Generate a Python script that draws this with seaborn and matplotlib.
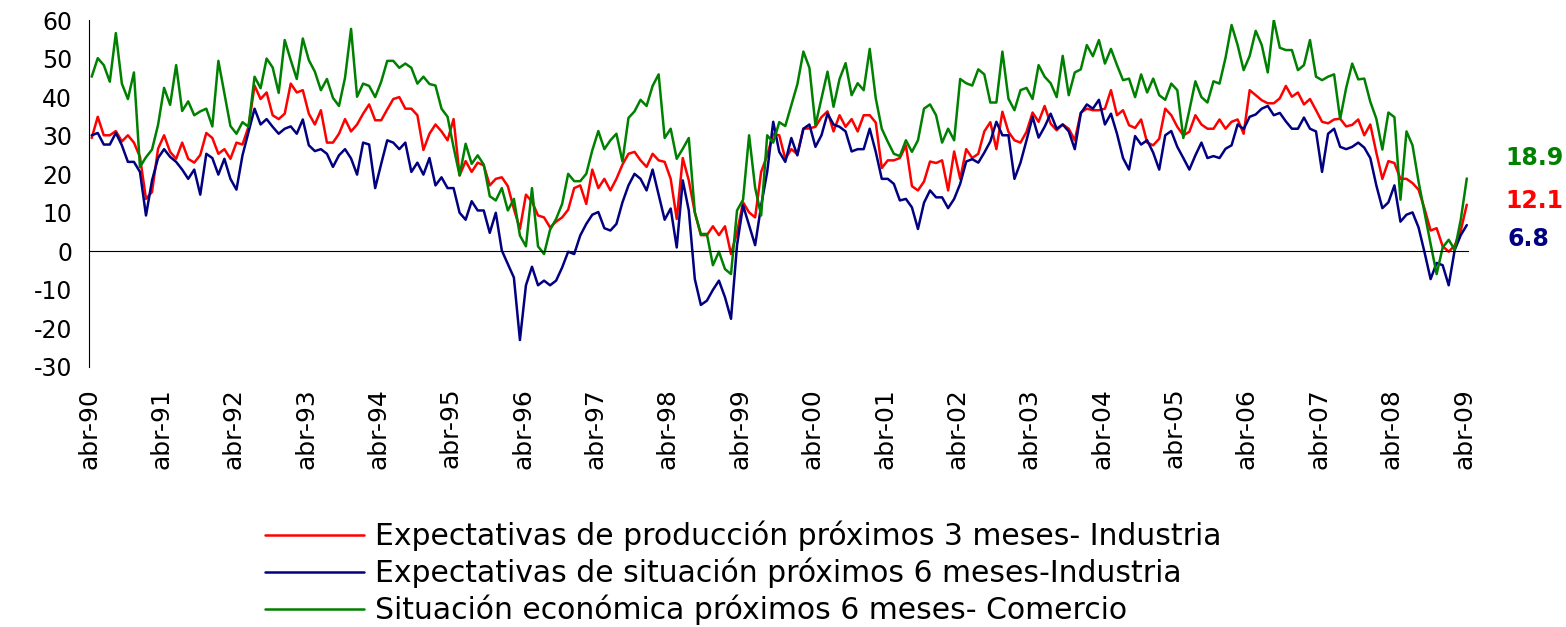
import numpy as np
import pandas as pd
import seaborn as sns
import matplotlib
matplotlib.use('Agg')
import matplotlib.pyplot as plt
import matplotlib.transforms as mtransforms

# Monthly series, abr-90 .. abr-09 (one row per year, Apr..Mar)
produccion_ind = [
    29.4, 34.9, 30.1, 30.1, 31.2, 28.5, 30.1, 28.2, 24.5, 13.6, 15.4, 26.6,
    30.1, 25.8, 24.0, 28.2, 24.0, 23.0, 25.0, 30.7, 29.4, 25.3, 26.5, 24.0,
    28.2, 27.7, 32.3, 43.0, 39.5, 41.2, 35.3, 34.3, 35.7, 43.5, 41.2, 41.8,
    35.7, 32.9, 36.6, 28.2, 28.2, 30.5, 34.3, 31.1, 32.9, 35.7, 38.1, 34.0,
    34.0, 36.8, 39.5, 40.0, 37.0, 37.0, 35.3, 26.3, 30.5, 32.9, 31.1, 28.8,
    34.3, 19.7, 23.4, 20.6, 23.0, 22.3, 17.1, 18.8, 19.2, 16.9, 11.0, 5.8,
    14.7, 12.9, 9.3, 8.8, 6.2, 7.7, 8.8, 10.8, 16.4, 17.1, 12.3, 21.2,
    16.4, 18.8, 15.8, 18.8, 22.5, 25.3, 25.8, 23.6, 21.9, 25.3, 23.6, 23.2,
    18.8, 8.4, 24.2, 18.4, 10.1, 4.2, 4.2, 6.5, 4.2, 6.5, -0.7, 4.9,
    12.7, 10.1, 8.8, 20.6, 24.9, 30.5, 30.1, 24.0, 26.5, 25.2, 31.8, 31.9,
    32.3, 34.8, 36.3, 31.1, 35.3, 32.3, 34.3, 31.1, 35.3, 35.3, 33.4, 21.6,
    23.6, 23.6, 24.2, 27.5, 16.9, 15.8, 18.1, 23.3, 22.9, 23.6, 15.8, 25.9,
    18.8, 26.5, 24.2, 25.3, 31.1, 33.5, 26.5, 36.2, 31.0, 28.8, 28.2, 31.0,
    36.0, 33.6, 37.7, 33.1, 31.4, 32.9, 31.8, 28.8, 36.0, 37.0, 36.6, 36.6,
    37.0, 41.8, 35.3, 36.6, 32.7, 32.0, 34.2, 28.2, 27.5, 29.2, 37.0, 35.3,
    32.3, 30.1, 31.0, 35.3, 32.9, 31.8, 31.8, 34.2, 31.8, 33.6, 34.2, 30.5,
    41.8, 40.5, 39.2, 38.4, 38.4, 39.7, 42.9, 40.1, 41.2, 38.1, 39.5, 36.6,
    33.6, 33.2, 34.2, 34.4, 32.4, 32.8, 34.2, 30.1, 32.9, 25.6, 18.8, 23.4,
    22.9, 18.8, 18.8, 17.7, 16.0, 11.0, 5.4, 6.0, 1.3, -0.1, 1.5, 5.4,
    12.1,
]

situacion_ind = [
    30.1, 30.7, 27.7, 27.7, 30.7, 27.5, 23.2, 23.2, 20.6, 9.3, 18.4, 24.2,
    26.5, 24.5, 23.2, 21.2, 18.8, 21.2, 14.7, 25.3, 24.2, 19.9, 24.0, 18.8,
    16.0, 24.9, 31.0, 37.0, 32.9, 34.3, 32.3, 30.5, 31.8, 32.4, 30.5, 34.2,
    27.5, 26.0, 26.5, 25.3, 21.9, 24.9, 26.5, 24.1, 19.9, 28.2, 27.7, 16.4,
    22.7, 28.8, 28.2, 26.5, 28.2, 20.6, 23.0, 19.9, 24.2, 17.1, 19.2, 16.4,
    16.4, 10.0, 8.2, 13.0, 10.6, 10.6, 4.8, 10.0, 0.2, -3.3, -6.8, -23.0,
    -8.8, -4.0, -8.8, -7.6, -8.8, -7.6, -4.2, -0.1, -0.7, 4.1, 7.1, 9.5,
    10.2, 6.0, 5.4, 7.1, 12.7, 17.1, 20.1, 18.8, 15.8, 21.2, 14.7, 8.2,
    11.1, 1.0, 18.4, 10.6, -7.2, -13.9, -12.8, -10.0, -7.6, -11.9, -17.5, 1.6,
    11.9, 6.7, 1.6, 11.9, 20.6, 33.6, 25.8, 23.2, 29.4, 24.9, 31.8, 32.9,
    27.1, 30.1, 35.7, 32.9, 32.3, 31.1, 25.9, 26.5, 26.5, 31.8, 25.8, 18.8,
    18.8, 17.5, 13.2, 13.6, 11.4, 5.8, 12.6, 15.8, 14.0, 14.0, 11.2, 13.6,
    17.5, 23.3, 23.9, 23.0, 25.6, 28.5, 33.6, 30.1, 30.1, 18.8, 23.0, 28.8,
    34.9, 29.5, 32.3, 35.7, 31.8, 32.9, 31.1, 26.5, 35.8, 38.1, 37.0, 39.3,
    32.9, 35.7, 30.5, 24.2, 21.2, 29.9, 27.7, 28.8, 25.6, 21.2, 30.1, 31.2,
    27.1, 24.2, 21.2, 24.9, 28.2, 24.2, 24.7, 24.2, 26.6, 27.5, 32.9, 31.7,
    34.9, 35.5, 37.0, 37.7, 35.3, 35.9, 33.7, 31.8, 31.8, 34.7, 31.8, 31.1,
    20.6, 30.5, 31.8, 27.1, 26.5, 27.1, 28.2, 26.9, 24.2, 17.1, 11.2, 12.7,
    17.1, 7.7, 9.5, 10.1, 6.2, -0.3, -7.2, -3.0, -3.6, -8.8, 0.4, 4.2,
    6.8,
]

situacion_com = [
    45.3, 50.1, 48.3, 44.0, 56.6, 43.5, 39.5, 46.4, 21.9, 24.4, 26.4, 32.8,
    42.4, 38.0, 48.3, 36.4, 38.9, 35.3, 36.3, 37.0, 32.4, 49.4, 41.0, 32.5,
    30.5, 33.5, 32.3, 45.3, 42.3, 50.0, 47.7, 41.1, 54.8, 49.6, 44.7, 55.2,
    49.6, 46.6, 41.8, 44.7, 39.8, 37.7, 45.0, 57.7, 40.1, 43.5, 42.9, 40.0,
    44.0, 49.4, 49.4, 47.6, 48.7, 47.6, 43.5, 45.3, 43.4, 43.0, 37.0, 34.9,
    27.0, 19.7, 27.9, 22.7, 24.9, 22.5, 14.3, 13.2, 16.4, 10.6, 13.6, 4.1,
    1.3, 16.4, 1.3, -0.7, 5.6, 8.4, 12.3, 20.1, 18.2, 18.2, 20.1, 26.2,
    31.2, 26.5, 28.8, 30.5, 23.3, 34.6, 36.3, 39.3, 37.7, 42.9, 45.9, 29.4,
    31.8, 24.0, 26.6, 29.4, 10.1, 4.5, 4.5, -3.6, -0.1, -4.6, -5.9, 10.6,
    13.4, 30.1, 16.5, 9.3, 30.1, 28.2, 33.5, 32.5, 37.9, 43.3, 51.8, 47.6,
    32.7, 39.6, 46.6, 37.5, 44.7, 48.8, 40.5, 43.6, 41.8, 52.5, 39.7, 31.8,
    28.4, 25.3, 24.7, 28.8, 25.8, 28.8, 37.0, 38.1, 35.3, 28.2, 31.8, 28.8,
    44.7, 43.6, 43.0, 47.2, 45.9, 38.6, 38.6, 51.8, 39.6, 36.6, 41.8, 42.4,
    39.5, 48.3, 45.3, 43.6, 40.0, 50.7, 40.5, 46.4, 47.2, 53.5, 50.6, 54.8,
    48.7, 52.5, 48.3, 44.4, 44.8, 40.0, 45.9, 41.2, 44.8, 40.5, 39.3, 43.5,
    41.8, 29.4, 36.6, 44.1, 40.0, 38.6, 44.1, 43.5, 50.2, 58.7, 53.5, 47.0,
    50.7, 57.2, 53.5, 46.4, 60.0, 52.8, 52.2, 52.2, 47.0, 48.3, 54.8, 45.3,
    44.4, 45.3, 45.9, 34.3, 42.4, 48.7, 44.6, 44.8, 38.8, 34.4, 26.4, 36.0,
    34.8, 13.4, 31.1, 27.5, 18.1, 10.0, 1.9, -5.9, 1.0, 3.0, 0.4, 8.2,
    18.9,
]

series_names = [
    'Expectativas de producción próximos 3 meses- Industria',
    'Expectativas de situación próximos 6 meses-Industria',
    'Situación económica próximos 6 meses- Comercio',
]
series_colors = ['#ff0000', '#000080', '#008000']
year_labels = ['abr-%02d' % ((90 + k) % 100) for k in range(20)]

# long format for seaborn
frames = []
for name, vals in zip(series_names, [produccion_ind, situacion_ind, situacion_com]):
    frames.append(pd.DataFrame({'mes': np.arange(len(vals)), 'valor': vals, 'serie': name}))
df = pd.concat(frames, ignore_index=True)

sns.set_style('white')
plt.rcParams['font.family'] = ['DejaVu Sans']
plt.rcParams['axes.unicode_minus'] = False
plt.rcParams['text.color'] = 'black'
plt.rcParams['xtick.color'] = 'black'
plt.rcParams['ytick.color'] = 'black'

fig = plt.figure(figsize=(15.66, 6.27), dpi=100)
ax = fig.add_axes([89 / 1566, 1 - 367 / 627, (1468 - 89) / 1566, 347 / 627])

sns.lineplot(data=df, x='mes', y='valor', hue='serie', hue_order=series_names,
             palette=dict(zip(series_names, series_colors)), linewidth=1.8, ax=ax)

ax.set_xlim(-0.45, 228.2)
ax.set_ylim(-30, 60)
ax.set_yticks(range(-30, 61, 10))
ax.set_xlabel('')
ax.set_ylabel('')

for s in ['top', 'right']:
    ax.spines[s].set_visible(False)
ax.spines['left'].set_color('black')
ax.spines['bottom'].set_color('black')
ax.spines['bottom'].set_position(('data', 0))

tick_pos = [12 * k - 0.45 for k in range(20)]
ax.set_xticks(tick_pos)
ax.tick_params(axis='x', direction='out', length=6, width=1, color='#555555', labelbottom=False)
ax.tick_params(axis='y', direction='out', length=8, width=1, color='#444444',
               labelsize=17, labelcolor='black', pad=4)

# month labels sit under the plot, not on the zero line
sec = ax.secondary_xaxis(0)
sec.set_xticks(tick_pos, labels=year_labels, rotation=90, fontsize=18, color='black')
sec.tick_params(length=0, pad=15)
sec.spines['bottom'].set_visible(False)

# latest values on the right
trans = mtransforms.blended_transform_factory(ax.transAxes, ax.transData)
ax.text(1.027, 24.3, '18.9', color='#008000', fontsize=17, fontweight='bold', va='center', transform=trans)
ax.text(1.027, 13.1, '12.1', color='#ff0000', fontsize=17, fontweight='bold', va='center', transform=trans)
ax.text(1.029, 3.2, '6.8', color='#000080', fontsize=17, fontweight='bold', va='center', transform=trans)

handles, labels = ax.get_legend_handles_labels()
leg = ax.legend(handles, labels, loc='center left', bbox_to_anchor=(265 / 1566, 1 - 573 / 627),
                bbox_transform=fig.transFigure, frameon=False, fontsize=21.5,
                handlelength=3.3, handletextpad=0.4, labelspacing=0.22, borderpad=0, borderaxespad=0)
for t in leg.get_texts():
    t.set_color('black')

fig.savefig('out.png', dpi=100)
